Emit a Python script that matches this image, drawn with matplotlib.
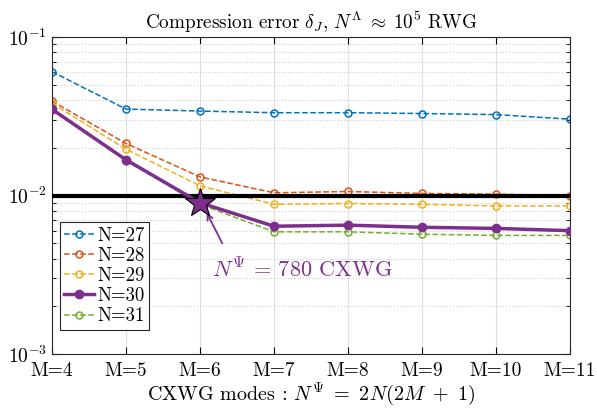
import numpy as np
import matplotlib
matplotlib.use('Agg')
import matplotlib.pyplot as plt

plt.rcParams['font.family'] = 'serif'
plt.rcParams['font.serif'] = ['cmr10']
plt.rcParams['mathtext.fontset'] = 'cm'
plt.rcParams['axes.formatter.use_mathtext'] = True
plt.rcParams['axes.unicode_minus'] = False

# data
m_labels = ['M=4', 'M=5', 'M=6', 'M=7', 'M=8', 'M=9', 'M=10', 'M=11']
err_n27 = [0.0604, 0.0351, 0.0341, 0.0333, 0.0333, 0.0329, 0.0324, 0.0303]
err_n28 = [0.0394, 0.0213, 0.0131, 0.0104, 0.0106, 0.0103, 0.0102, 0.0100]
err_n29 = [0.0382, 0.0196, 0.0115, 0.0088, 0.0089, 0.0088, 0.0086, 0.0086]
err_n30 = [0.0350, 0.0168, 0.0090, 0.0064, 0.0065, 0.0063, 0.0062, 0.0060]
err_n31 = [0.0345, 0.0166, 0.0088, 0.0059, 0.0059, 0.0057, 0.0056, 0.0056]
target = 1e-2
star_idx = 2

colors = ['#0072BD', '#D95319', '#EDB120', '#7E2F8E', '#77AC30']
x = np.arange(len(m_labels))

fig = plt.figure(figsize=(5.97, 4.09), dpi=100)
ax = fig.add_axes([0.0871, 0.1345, 0.8677, 0.775])

ax.grid(True, which='major', axis='x', color='#e0e0e0', linewidth=0.8)
ax.grid(True, which='minor', axis='y', color='#d0d0d0', linestyle=':', linewidth=0.8)
ax.grid(True, which='major', axis='y', color='#e0e0e0', linewidth=0.8)
ax.set_axisbelow(True)

ax.plot(x, err_n27, '--o', color=colors[0], lw=1.1, ms=5, mfc='none', mew=1.1, label='N=27')
ax.plot(x, err_n28, '--o', color=colors[1], lw=1.1, ms=5, mfc='none', mew=1.1, label='N=28')
ax.plot(x, err_n29, '--o', color=colors[2], lw=1.1, ms=5, mfc='none', mew=1.1, label='N=29')
ax.plot(x, err_n30, '-o', color=colors[3], lw=2.5, ms=6, mfc=colors[3], label='N=30', zorder=4)
ax.plot(x, err_n31, '--o', color=colors[4], lw=1.1, ms=5, mfc='none', mew=1.1, label='N=31')

ax.axhline(target, color='black', lw=3, zorder=3)
ax.plot(x[star_idx], err_n30[star_idx], marker='*', ms=22, color=colors[3],
        mec='black', mew=0.8, zorder=6)

# arrow and label for the chosen point
ax.annotate('', xy=(2.09, 0.0078), xytext=(2.30, 0.0050),
            arrowprops=dict(arrowstyle='->', color=colors[3], lw=1.3,
                            shrinkA=0, shrinkB=0))
ax.text(2.16, 0.00345, r'$N^{\Psi}$ = 780 CXWG', color=colors[3], fontsize=16,
        va='center', ha='left')

ax.set_yscale('log')
ax.set_ylim(1e-3, 1e-1)
ax.set_xlim(x[0], x[-1])
ax.set_xticks(x)
ax.set_xticklabels(m_labels)
ax.tick_params(which='both', direction='in', top=True, right=True, labelsize=14)
ax.tick_params(which='major', length=5)
ax.tick_params(which='minor', length=3)
ax.tick_params(axis='x', pad=6)
for s in ax.spines.values():
    s.set_linewidth(0.8)
    s.set_color('#262626')

ax.set_title(r'Compression error $\delta_J$, $N^{\Lambda}\;\approx\;10^5$ RWG', fontsize=13.8, pad=6)
ax.set_xlabel(r'CXWG modes : $N^{\Psi}\ =\ 2N(2M\ +\ 1)$', fontsize=14.5, labelpad=1)

leg = ax.legend(loc='lower left', bbox_to_anchor=(0.015, 0.076), fontsize=13.5, fancybox=False,
                edgecolor='#262626', framealpha=1, handlelength=1.6, handletextpad=0.15,
                borderpad=0.25, labelspacing=0.12, borderaxespad=0)
leg.get_frame().set_linewidth(0.8)

fig.savefig('out.png', dpi=100)
